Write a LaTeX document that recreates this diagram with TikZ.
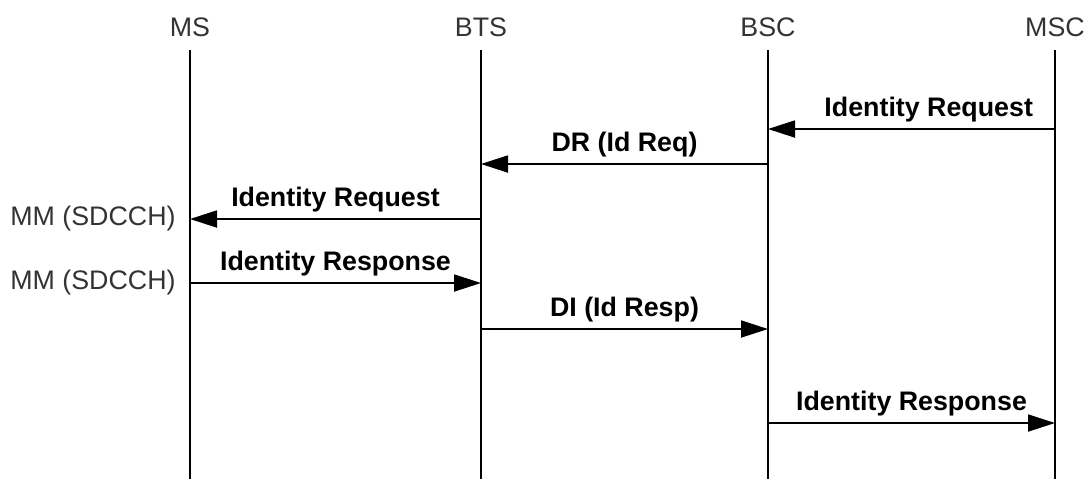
\documentclass[tikz,border=0pt]{standalone}
\usepackage{fontspec}
\setmainfont{Liberation Sans}
\usetikzlibrary{arrows.meta}

\tikzset{%
  entity/.style={
    font=\fontsize{13.4}{16}\selectfont,
    text=black!80,
    inner sep=0pt
  },
  lifeline/.style={
    line width=0.9pt
  },
  message/.style={
    line width=0.9pt,
    -{Triangle[length=13.5pt,width=8.5pt]}
  },
  msg label/.style={
    font=\fontsize{13.4}{16}\selectfont\bfseries,
    anchor=base,
    yshift=6.5pt,
    inner sep=0pt
  },
  channel/.style={
    font=\fontsize{13.4}{16}\selectfont,
    text=black!80,
    anchor=east,
    inner sep=0pt
  },
}

\begin{document}
\begin{tikzpicture}[x=0.5pt, y=-0.5pt]
        \useasboundingbox (0,0) rectangle (1085,479);

            % entities and their lifelines
            \foreach \n/\x in {MS/190,BTS/481,BSC/768,MSC/1055} {
              \node [entity] (\n) at (\x,27) {\n};
              \coordinate (\n-top) at (\x,50);
              \coordinate (\n-bot) at (\x,479);
              \draw [lifeline] (\n-top) -- (\n-bot);
            }

            % messages
            \foreach \from/\to/\y/\p/\l [count=\i] in {
                MSC/BSC/129/0.44/Identity Request,
                BSC/BTS/164/0.5/DR (Id Req),
                BTS/MS/219/0.5/Identity Request,
                MS/BTS/283/0.5/Identity Response,
                BTS/BSC/329/0.5/DI (Id Resp),
                BSC/MSC/423/0.5/Identity Response} {
              \coordinate (m\i-a) at (\from-top |- 0,\y);
              \coordinate (m\i-b) at (\to-top |- 0,\y);
              \draw [message] (m\i-a) -- node [msg label, pos=\p] (l\i) {\l} (m\i-b);
            }

            \node [channel] (ch-3) at ([xshift=-7pt]m3-b) {MM (SDCCH)};
            \node [channel] (ch-4) at ([xshift=-7pt]m4-a) {MM (SDCCH)};

        \end{tikzpicture}
\end{document}
